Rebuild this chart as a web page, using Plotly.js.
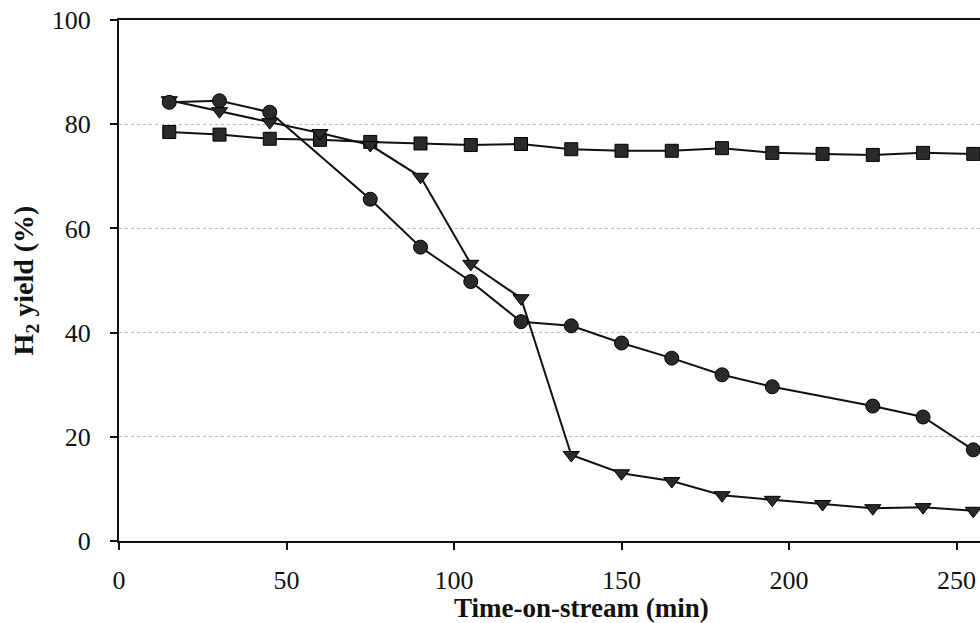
<!DOCTYPE html>
<html>
<head>
<meta charset="utf-8">
<script src="https://cdn.plot.ly/plotly-3.0.1.min.js"></script>
<style>html,body{margin:0;padding:0;background:#fff;}#chart{width:980px;height:623px;}</style>
</head>
<body>
<div id="chart"></div>
<script>
// Time-on-stream (min)
const xSquare = [15,30,45,60,75,90,105,120,135,150,165,180,195,210,225,240,255];
const ySquare = [78.5,78.0,77.2,77.0,76.6,76.3,76.0,76.2,75.2,74.9,74.9,75.4,74.5,74.3,74.1,74.5,74.3];

const xCircle = [15,30,45,75,90,105,120,135,150,165,180,195,225,240,255];
const yCircle = [84.2,84.5,82.3,65.6,56.4,49.8,42.1,41.3,38.0,35.1,31.9,29.6,25.9,23.8,17.5];

const xTriangle = [15,30,45,60,75,90,105,120,135,150,165,180,195,210,225,240,255];
const yTriangle = [84.6,82.5,80.4,78.3,76.0,69.9,53.2,46.6,16.5,13.0,11.5,8.8,7.9,7.1,6.3,6.5,5.8];

const xTicks = [0,50,100,150,200,250];
const yTicks = [0,20,40,60,80,100];

const lineStyle = {color:'#111', width:2};
const markerBase = {color:'#2a2a2a', line:{color:'#000', width:1}};

const traces = [
  {x:xSquare, y:ySquare, mode:'lines+markers', line:lineStyle,
   marker:Object.assign({symbol:'square', size:13}, markerBase), showlegend:false},
  {x:xTriangle, y:yTriangle, mode:'lines+markers', line:lineStyle,
   marker:Object.assign({symbol:'triangle-down', size:14}, markerBase), showlegend:false},
  {x:xCircle, y:yCircle, mode:'lines+markers', line:lineStyle,
   marker:Object.assign({symbol:'circle', size:14}, markerBase), showlegend:false}
];

const fam = 'Liberation Serif, Times New Roman, serif';
const tickFont = {family:fam, size:26, color:'#111'};
const titleFont = {family:fam, size:28, color:'#111', weight:'bold'};
const xTitleFont = {family:fam, size:27, color:'#111', weight:'bold'};

const layout = {
  width:980, height:623,
  margin:{l:119, r:0, t:20, b:82},
  paper_bgcolor:'#fff', plot_bgcolor:'#fff',
  xaxis:{range:[0,257], tickvals:xTicks, ticktext:xTicks.map(String),
    showline:true, linecolor:'#111', linewidth:2, mirror:true,
    ticks:'outside', ticklen:7, tickwidth:2, tickcolor:'#111',
    ticklabelstandoff:8,
    showgrid:false, zeroline:false, tickfont:tickFont},
  yaxis:{range:[0,100], tickvals:yTicks, ticktext:yTicks.map(String),
    showline:true, linecolor:'#111', linewidth:2,
    ticks:'outside', ticklen:7, tickwidth:2, tickcolor:'#111',
    ticklabelstandoff:14,
    showgrid:true, gridcolor:'#bdbdbd', gridwidth:1, griddash:'dot',
    zeroline:false, tickfont:tickFont,
    title:{text:'<b>H<sub>2</sub> yield (%)</b>', font:titleFont, standoff:10}},
  annotations:[
    {text:'<b>Time-on-stream (min)</b>', xref:'paper', yref:'paper', x:0.537, y:0,
     yshift:-67, xanchor:'center', yanchor:'middle', showarrow:false, font:xTitleFont}
  ]
};

Plotly.newPlot('chart', traces, layout, {displayModeBar:false, staticPlot:true});
</script>
</body>
</html>
